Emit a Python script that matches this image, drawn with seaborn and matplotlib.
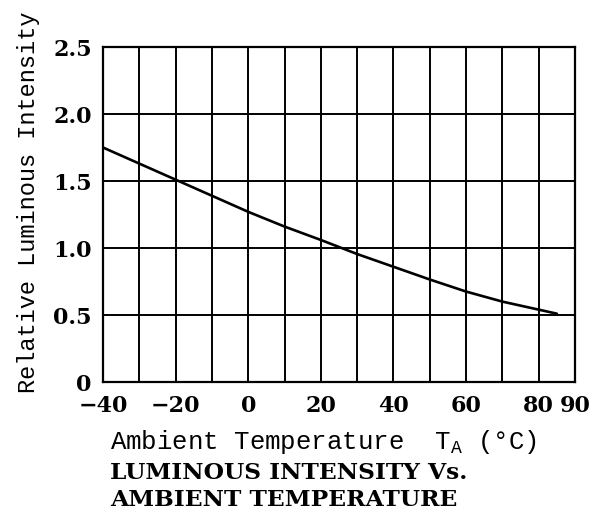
import matplotlib
matplotlib.use("Agg")
import matplotlib.pyplot as plt
import pandas as pd
import seaborn as sns

# -- Data ----------------------------------------------------------------------
TEMP_C = [-40, -30, -20, -10, 0, 10, 20, 30, 40, 50, 60, 70, 80, 85]
REL_INTENSITY = [1.75, 1.63, 1.51, 1.39, 1.27, 1.16, 1.06, 0.955,
                 0.86, 0.765, 0.675, 0.60, 0.54, 0.51]

X_GRID = list(range(-40, 91, 10))
X_TICK_LABELS = {-40: "−40", -20: "−20", 0: "0", 20: "20", 40: "40",
                 60: "60", 80: "80", 90: "90"}
Y_TICKS = [0, 0.5, 1.0, 1.5, 2.0, 2.5]
Y_TICK_LABELS = ["0", "0.5", "1.0", "1.5", "2.0", "2.5"]

sns.set_theme(style="white")
plt.rcParams["font.family"] = ["DejaVu Serif"]
plt.rcParams["text.color"] = "black"
plt.rcParams["mathtext.fontset"] = "custom"
plt.rcParams["mathtext.rm"] = "Liberation Mono"

df = pd.DataFrame({"temp": TEMP_C, "intensity": REL_INTENSITY})

fig = plt.figure(figsize=(5.98, 5.12), dpi=100)
ax = fig.add_axes([0.1722, 0.2539, 0.7893, 0.6543])

sns.lineplot(data=df, x="temp", y="intensity", ax=ax, color="black",
             linewidth=1.9, zorder=5)

ax.set_xlim(-40, 90)
ax.set_ylim(0, 2.5)
ax.set_xticks(X_GRID)
ax.set_xticklabels([X_TICK_LABELS.get(v, "") for v in X_GRID])
ax.set_yticks(Y_TICKS)
ax.set_yticklabels(Y_TICK_LABELS)
ax.grid(True, color="black", linewidth=1.4)
for sp in ax.spines.values():
    sp.set_color("black")
    sp.set_linewidth(1.6)
ax.tick_params(axis="both", length=0, labelsize=16, colors="black")
ax.tick_params(axis="x", pad=9)
ax.tick_params(axis="y", pad=8)
for lbl in ax.get_xticklabels() + ax.get_yticklabels():
    lbl.set_fontweight("bold")
ax.set_xlabel("")
ax.set_ylabel("")

mono = "Liberation Mono"
fig.text(0.047, 0.604, "Relative Luminous Intensity", rotation=90,
         ha="center", va="center", fontsize=17, family=mono)
fig.text(0.184, 0.137, "Ambient Temperature  T$_\\mathregular{A}$ (°C)",
         ha="left", va="center", fontsize=18.5, family=mono)
fig.text(0.184, 0.076, "LUMINOUS INTENSITY Vs.", ha="left", va="center",
         fontsize=16.8, fontweight="bold")
fig.text(0.184, 0.023, "AMBIENT TEMPERATURE", ha="left", va="center",
         fontsize=16.8, fontweight="bold")

fig.savefig("out.png", dpi=100)
